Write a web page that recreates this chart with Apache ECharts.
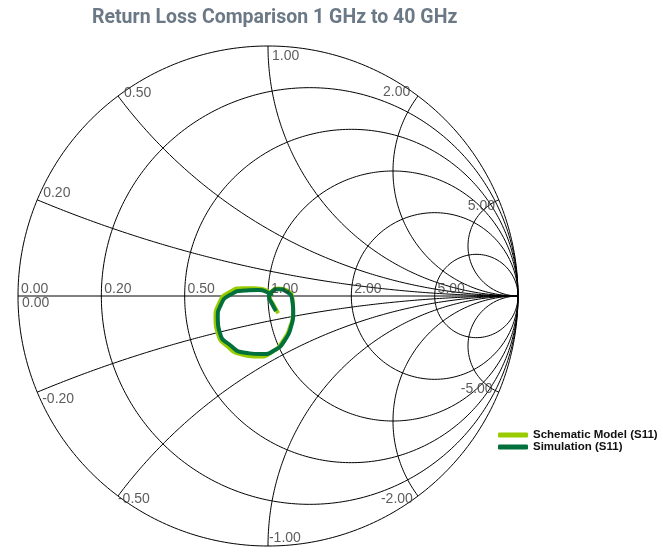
<!DOCTYPE html>
<html>
<head>
<meta charset="utf-8">
<script src="https://cdn.jsdelivr.net/npm/echarts@6/dist/echarts.min.js"></script>
<style>
  html, body { margin: 0; background: #fff; }
  #chart { width: 663px; height: 559px; }
</style>
</head>
<body>
<div id="chart"></div>
<script>
// smith chart grid
var resistanceValues = [0, 0.2, 0.5, 1, 2, 5];
var resistanceLabels = ['0.00', '0.20', '0.50', '1.00', '2.00', '5.00'];
var reactanceValues = [0.2, 0.5, 1, 2, 5, -0.2, -0.5, -1, -2, -5];
var reactanceLabels = ['0.20', '0.50', '1.00', '2.00', '5.00', '-0.20', '-0.50', '-1.00', '-2.00', '-5.00'];

var schematicRe = [0.041, 0.020, 0.008, 0.016, 0.042, 0.076, 0.098, 0.100, 0.088, 0.060, 0.016, -0.040, -0.104, -0.164, -0.200, -0.210, -0.196, -0.156, -0.098, -0.040, 0.000, 0.016];
var schematicIm = [-0.069, -0.032, -0.004, 0.020, 0.030, 0.022, -0.012, -0.066, -0.124, -0.180, -0.224, -0.242, -0.234, -0.200, -0.152, -0.090, -0.030, 0.014, 0.031, 0.030, 0.018, 0.004];
var simulationRe = [0.032, 0.015, 0.004, 0.015, 0.041, 0.075, 0.097, 0.101, 0.092, 0.068, 0.028, -0.025, -0.092, -0.152, -0.192, -0.201, -0.188, -0.149, -0.094, -0.039, 0.001, 0.016];
var simulationIm = [-0.060, -0.029, -0.003, 0.017, 0.027, 0.017, -0.016, -0.069, -0.123, -0.176, -0.216, -0.232, -0.227, -0.196, -0.149, -0.089, -0.034, 0.006, 0.022, 0.024, 0.013, 0.000];

// label offsets in px (not data)
var reactanceLabelPos = [[6, -14], [6, -10], [4, 3], [-35, -11], [-31, -1],
                         [5, 0], [0, -4], [1, -15], [-37, -4], [-38, -10]];

function toGamma(r, x) {
  // (z-1)/(z+1)
  var a = r - 1, b = x, c = r + 1, d = x;
  var den = c * c + d * d;
  return [(a * c + b * d) / den, (b * c - a * d) / den];
}

function resistanceCircle(r) {
  var cx = r / (1 + r), rad = 1 / (1 + r), pts = [];
  for (var i = 0; i <= 360; i++) {
    var t = i * Math.PI / 180;
    pts.push([cx + rad * Math.cos(t), rad * Math.sin(t)]);
  }
  return pts;
}

function reactanceArc(x) {
  var pts = [];
  for (var i = 0; i < 400; i++) {
    var r = Math.tan(i / 400 * Math.PI / 2);
    pts.push(toGamma(r, x));
  }
  pts.push([1, 0]);
  return pts;
}

function zip(a, b) {
  return a.map(function (v, i) { return [v, b[i]]; });
}

var gridStyle = { color: '#000', width: 1 };
var series = [];

resistanceValues.forEach(function (r) {
  series.push({ type: 'line', data: resistanceCircle(r), showSymbol: false, silent: true,
    clip: false, lineStyle: gridStyle, z: 1 });
});
reactanceValues.forEach(function (x) {
  series.push({ type: 'line', data: reactanceArc(x), showSymbol: false, silent: true,
    clip: false, lineStyle: gridStyle, z: 1 });
});
series.push({ type: 'line', data: [[-1, 0], [1, 0]], showSymbol: false, silent: true,
  clip: false, lineStyle: gridStyle, z: 1 });

var labelText = { color: '#333', fontSize: 14, fontFamily: 'Liberation Sans, Arial, sans-serif' };
var labelData = [];
resistanceValues.forEach(function (r, i) {
  labelData.push({ value: toGamma(r, 0), label: Object.assign({ show: true, formatter: resistanceLabels[i], position: [3, -14] }, labelText) });
});
labelData.push({ value: [-1, 0], label: Object.assign({ show: true, formatter: resistanceLabels[0], position: [4, 0] }, labelText) });
reactanceValues.forEach(function (x, i) {
  labelData.push({ value: toGamma(0, x), label: Object.assign({ show: true, formatter: reactanceLabels[i], position: reactanceLabelPos[i] }, labelText) });
});
series.push({ type: 'scatter', data: labelData, symbolSize: 0.1, itemStyle: { color: 'transparent' },
  silent: true, clip: false, z: 5 });

series.push({ name: 'Schematic Model (S11)', type: 'line', data: zip(schematicRe, schematicIm),
  smooth: 0.6, showSymbol: false, clip: false, color: '#99cc00',
  lineStyle: { width: 4, color: '#99cc00' }, z: 3 });
series.push({ name: 'Simulation (S11)', type: 'line', data: zip(simulationRe, simulationIm),
  smooth: 0.6, showSymbol: false, clip: false, color: '#00703c',
  lineStyle: { width: 4, color: '#00703c' }, z: 4 });

var chart = echarts.init(document.getElementById('chart'));
chart.setOption({
  animation: false,
  backgroundColor: '#fff',
  title: {
    text: 'Return Loss Comparison 1 GHz to 40 GHz',
    left: 87, top: 3,
    textStyle: { color: '#6b7885', fontSize: 19.5, fontWeight: 'bold', fontFamily: 'Roboto, sans-serif' }
  },
  legend: {
    data: ['Schematic Model (S11)', 'Simulation (S11)'],
    orient: 'vertical', left: 493, top: 424,
    icon: 'roundRect', itemWidth: 30, itemHeight: 5, itemGap: 0,
    textStyle: { color: '#111', fontSize: 11.5, fontWeight: 'bold', fontFamily: 'Liberation Sans Narrow, Arial Narrow, sans-serif' }
  },
  grid: { left: 18, top: 46, width: 500, height: 500 },
  xAxis: { type: 'value', min: -1, max: 1, show: false },
  yAxis: { type: 'value', min: -1, max: 1, show: false },
  series: series
});
</script>
</body>
</html>
